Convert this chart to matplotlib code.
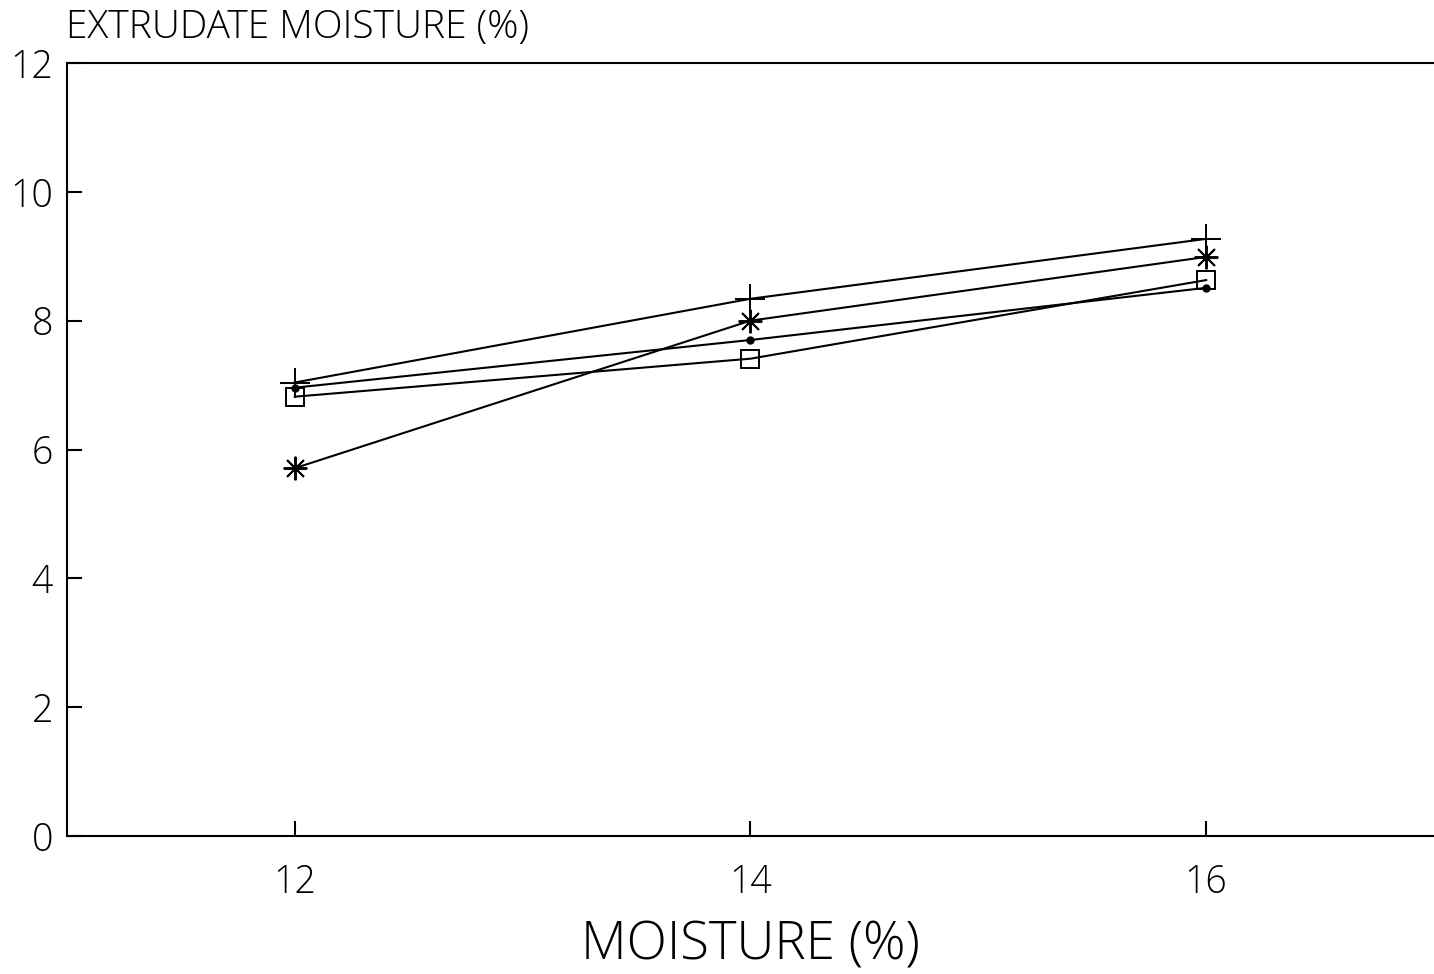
import matplotlib.pyplot as plt

# moisture content of feed (%)
moisture = [12, 14, 16]

# extrudate moisture (%) for the four series
series_plus = [7.04, 8.34, 9.27]
series_star = [5.71, 8.00, 8.99]
series_dot = [6.96, 7.70, 8.51]
series_square = [6.82, 7.41, 8.63]

plt.rcParams['font.family'] = ['Open Sans', 'DejaVu Sans']

fig = plt.figure(figsize=(14.34, 9.74), dpi=100)
ax = fig.add_axes([0.0467, 0.1417, 0.9533, 0.7936])

lw = 1.5
ax.plot(moisture, series_plus, color='black', lw=lw, marker='+', ms=22, mew=1.4)
ax.plot(moisture, series_star, color='black', lw=lw, marker=(8, 2, 0), ms=17, mew=1.4)
ax.plot(moisture, series_dot, color='black', lw=lw, marker='o', ms=5)
ax.plot(moisture, series_square, color='black', lw=lw, marker='s', ms=13,
        mfc='none', mew=1.4)

ax.set_xlim(11, 17)
ax.set_ylim(0, 12)
ax.set_xticks(moisture)
ax.set_yticks(range(0, 13, 2))

ax.spines['right'].set_visible(False)
for s in ['left', 'top', 'bottom']:
    ax.spines[s].set_linewidth(1.5)

ax.tick_params(axis='x', direction='in', length=11, width=1.5, pad=20,
               labelsize=27)
ax.tick_params(axis='y', direction='in', length=11, width=1.5, pad=10,
               labelsize=27)
for lab in ax.get_xticklabels() + ax.get_yticklabels():
    lab.set_fontweight('light')

ax.set_xlabel('MOISTURE (%)', fontsize=38, fontweight='light', labelpad=12)
fig.text(0.046, 0.961, 'EXTRUDATE MOISTURE (%)', fontsize=28,
         fontweight='light', ha='left', va='baseline')

fig.savefig('out.png', dpi=100)
